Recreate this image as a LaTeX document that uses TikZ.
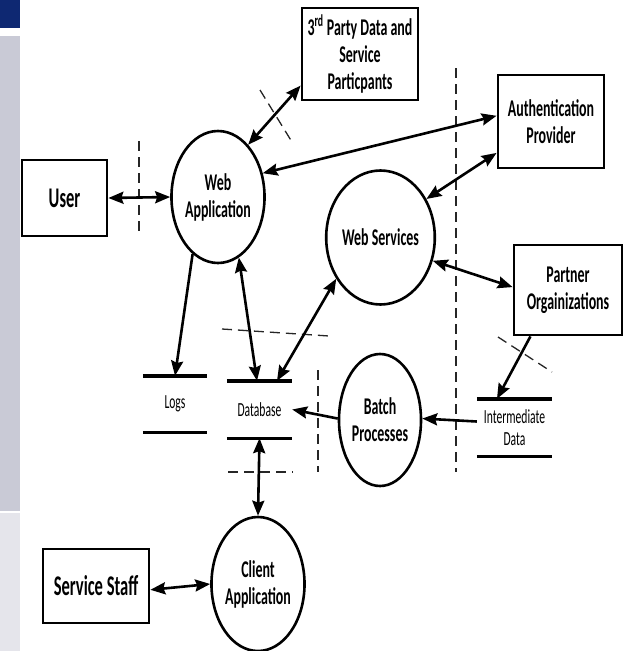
\documentclass[tikz,border=0pt]{standalone}
\usepackage{fontspec}
\setmainfont{Carlito}[FakeStretch=0.58]
\usetikzlibrary{shapes.geometric,arrows.meta,calc}

\definecolor{navyband}{HTML}{0E2872}
\definecolor{sidegray}{HTML}{C9CAD6}
\definecolor{sidelight}{HTML}{E5E5EB}

\begin{document}
\begin{tikzpicture}[x=1pt,y=-1pt,
  box/.style={draw, rectangle, line width=2.8pt, inner sep=0pt,
    font=\bfseries\fontsize{24}{27}\selectfont, align=center},
  bigbox/.style={box, font=\bfseries\fontsize{28.5}{30}\selectfont},
  proc/.style={draw, ellipse, line width=2.6pt, inner sep=0pt,
    minimum width=82pt, minimum height=132pt,
    font=\bfseries\fontsize{24}{27}\selectfont, align=center},
  store/.style={inner sep=0pt, font=\fontsize{20}{22}\selectfont, align=center},
  storeline/.style={line width=3.4pt},
  flow/.style={line width=2.6pt, -{Stealth[length=15pt,width=12pt,inset=2pt]}},
  biflow/.style={line width=2.6pt, {Stealth[length=15pt,width=12pt,inset=2pt]}-{Stealth[length=15pt,width=12pt,inset=2pt]}},
  boundary/.style={line width=1.3pt, dash pattern=on 10pt off 6pt, black!85}
]
% canvas and side band
\fill[white] (0,0) rectangle (624,651);
\useasboundingbox (0,0) rectangle (624,651);
\fill[navyband] (0,0) rectangle (20,28);
\fill[sidegray] (0,36) rectangle (20,511);
\fill[sidelight] (0,513) rectangle (20,651);

% external entities
\node[bigbox, minimum width=85pt, minimum height=76pt] (user) at (64.5,198) {User};
\node[bigbox, minimum width=106pt, minimum height=74pt] (ss) at (96,586) {Service Staff};
\node[box, minimum width=116pt, minimum height=92pt] (tp) at (360,54)
  {3\textsuperscript{rd} Party Data and\\Service\\Particpants};
\node[box, minimum width=106pt, minimum height=93pt] (ap) at (551,121.5)
  {Authentication\\Provider};
\node[box, minimum width=108pt, minimum height=90pt] (po) at (568,290)
  {Partner\\Orgainizations};

% processes
\node[proc] (wa) at (218,197) {Web\\Application};
\node[proc, minimum width=80pt, minimum height=134pt] (ws) at (380.5,237.5) {Web Services};
\node[proc] (bp) at (380,420) {Batch\\Processes};
\node[proc, minimum height=134pt] (ca) at (258,584) {Client\\Application};

% data stores
\node[store, minimum width=64pt, minimum height=56pt] (logs) at (175,404) {Logs};
\node[store, minimum width=65pt, minimum height=57pt] (db) at (259.5,409.5) {Database};
\node[store, minimum width=75pt, minimum height=57pt] (im) at (514.5,427.5) {Intermediate\\Data};
\foreach \s in {logs,db,im}{
  \draw[storeline] (\s.north west) -- (\s.north east);
  \draw[storeline] (\s.south west) -- (\s.south east);
}

% trust boundaries
\draw[boundary] (139,141) -- (139,232);
\draw[boundary] (260,90) -- (292,142);
\draw[boundary] (456,68) -- (456,472);
\draw[boundary] (222,329) -- (329,336);
\draw[boundary] (318,370) -- (318,472);
\draw[boundary] (228,472) -- (293,472);
\draw[boundary] (498,337) -- (552,372);

% data flows
\draw[biflow] (user.east) -- (wa.180);
\draw[biflow] (wa.60) -- (tp.208);
\draw[biflow] (wa.28) -- (ap.174);
\draw[biflow] (ws.40) -- (ap.210);
\draw[biflow] (ws.-24) -- (po.177);
\draw[flow] (wa.246) -- (logs.north);
\draw[biflow] (wa.289) -- ($(db.north)+(-2.5,0)$);
\draw[biflow] (ws.223) -- ($(db.north)+(17.5,0)$);
\draw[flow] (bp.178) -- (db.east);
\draw[flow] ($(im.west)+(0,-6)$) -- (bp.2);
\draw[flow] (po.231) -- ($(im.north)+(-17.5,0)$);
\draw[biflow] (db.south) -- (ca.90);
\draw[biflow] (ss.-4) -- (ca.180);
\end{tikzpicture}
\end{document}
